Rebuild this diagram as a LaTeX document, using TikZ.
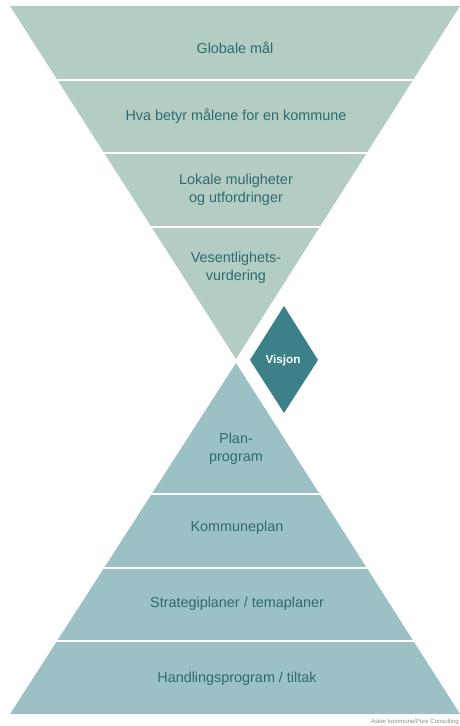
\documentclass[tikz,border=0pt]{standalone}
\usepackage{fontspec}
\setmainfont{Liberation Sans}
\definecolor{topfill}{HTML}{B3CDC2}
\definecolor{botfill}{HTML}{9CC1C5}
\definecolor{diafill}{HTML}{3D8087}
\definecolor{labtext}{HTML}{2E6A70}
\definecolor{foottext}{HTML}{8A8A8A}
\tikzset{
  lab/.style={text=labtext, align=center, font=\fontsize{14.4}{18}\selectfont, inner sep=0pt},
  sepline/.style={draw=white, line width=2pt},
}
\begin{document}
\begin{tikzpicture}[x=1pt, y=-1pt]
\useasboundingbox (0,0) rectangle (460,726);
% top (inverted) triangle
\coordinate (tl) at (10,6);
\coordinate (tr) at (460,6);
\coordinate (ta) at (236,359);
\fill[topfill] (tl) -- (tr) -- (ta) -- cycle;
\begin{scope}
  \clip (tl) -- (tr) -- (ta) -- cycle;
  \draw[sepline] (0,80) -- (460,80);
  \draw[sepline] (0,153) -- (460,153);
  \draw[sepline] (0,227) -- (460,227);
\end{scope}
% bottom triangle
\coordinate (ba) at (236,363);
\coordinate (bl) at (10,714);
\coordinate (br) at (460,714);
\fill[botfill] (ba) -- (br) -- (bl) -- cycle;
\begin{scope}
  \clip (ba) -- (br) -- (bl) -- cycle;
  \draw[sepline] (0,494) -- (460,494);
  \draw[sepline] (0,568) -- (460,568);
  \draw[sepline] (0,641) -- (460,641);
\end{scope}
% diamond
\fill[diafill] (284,306) -- (318,360) -- (284,413) -- (250,360) -- cycle;
\node[text=white, font=\fontsize{11.7}{14}\selectfont\bfseries, inner sep=0pt] (visjon) at (283,360) {Visjon};
% labels
\node[lab] (globale) at (235,48) {Globale mål};
\node[lab] (hva) at (236,116) {Hva betyr målene for en kommune};
\node[lab] (lokale) at (236,190) {Lokale muligheter\\og utfordringer};
\node[lab] (vesent) at (236,268) {Vesentlighets-\\vurdering};
\node[lab] (plan) at (236,449) {Plan-\\program};
\node[lab] (kommune) at (237,528) {Kommuneplan};
\node[lab] (strat) at (237,604) {Strategiplaner / temaplaner};
\node[lab] (handl) at (237,679) {Handlingsprogram / tiltak};
\node[text=foottext, font=\fontsize{6}{7}\selectfont, anchor=east, inner sep=0pt] (foot) at (459,722) {Asker kommune/Pure Consulting};
\end{tikzpicture}
\end{document}
